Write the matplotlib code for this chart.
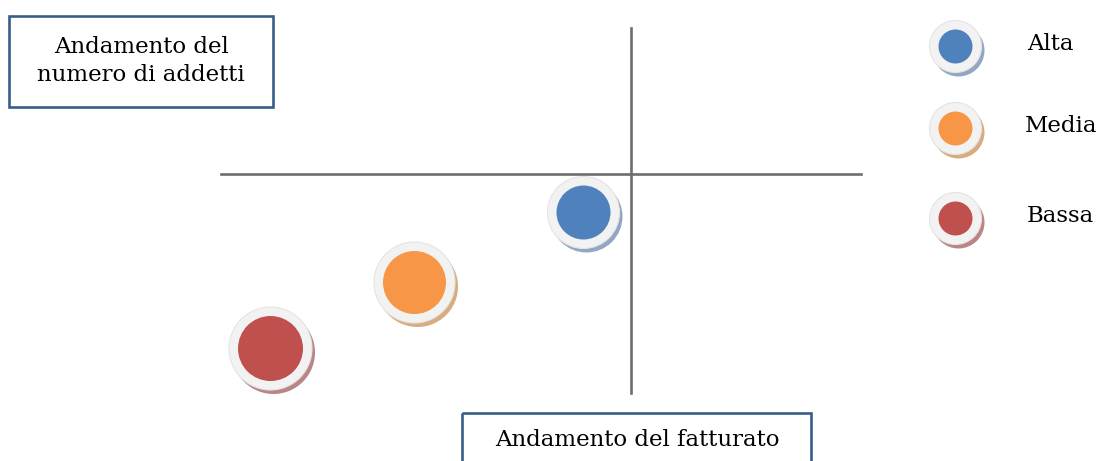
import numpy as np
import matplotlib.pyplot as plt
from matplotlib.patches import Rectangle
from matplotlib.transforms import Affine2D, offset_copy

# classi di crescita: posizione rispetto all'incrocio degli assi
classi = ['Alta', 'Media', 'Bassa']
fatturato = [-48, -217, -361]
addetti = [-38, -108, -174]
dimensione = [54, 63, 65]          # diametro bolla
colori = ['#4f81bd', '#f79646', '#c0504d']
ombre = ['#93a6c2', '#d9ab80', '#bb8585']

W, H = 1101, 461
fig = plt.figure(figsize=(W / 100, H / 100), dpi=100)
ax = fig.add_axes([0, 0, 1, 1])
ax.set_xlim(-631, W - 631)
ax.set_ylim(174 - H, 174)
ax.axis('off')

# coordinate in pixel (origine in alto a sinistra) per gli elementi di layout
px = Affine2D().scale(1 / W, -1 / H).translate(0, 1) + fig.transFigure

font = dict(family='DejaVu Serif', fontsize=16.5, color='black')


def bolla(x, y, d, col, ombra, trans):
    s_in = (d * 0.72) ** 2
    s_out = ((d + 18) * 0.72) ** 2
    sh = offset_copy(trans, fig=fig, x=3, y=-4, units='dots')
    ax.scatter(x, y, s=s_out, color=ombra, transform=sh, zorder=3, linewidths=0)
    ax.scatter(x, y, s=s_out, color='#f2f2f2', edgecolors='#e4e4e4', linewidths=0.8,
               transform=trans, zorder=4)
    ax.scatter(x, y, s=s_in, color=col, transform=trans, zorder=5, linewidths=0)


# assi del quadrante
ax.plot([-410, 230], [0, 0], color='#6e6e6e', linewidth=1.9, zorder=1)
ax.plot([0, 0], [-219, 146], color='#6e6e6e', linewidth=1.9, zorder=1)

for i in range(len(classi)):
    bolla(fatturato[i], addetti[i], dimensione[i], colori[i], ombre[i], ax.transData)

# legenda
leg_y = [46, 128, 218]
leg_txt_x = [1050, 1061, 1060]
for i in range(len(classi)):
    bolla(955, leg_y[i], 34, colori[i], ombre[i], px)
    ax.text(leg_txt_x[i], leg_y[i] - 2, classi[i], transform=px, ha='center', va='center', **font)

# riquadri dei titoli
ax.add_patch(Rectangle((9, 16), 264, 91, transform=px, fill=False, edgecolor='#385d8a',
                       linewidth=1.9, clip_on=False))
ax.text(141, 61, 'Andamento del\nnumero di addetti', transform=px, ha='center', va='center',
        linespacing=1.3, **font)

ax.add_patch(Rectangle((462, 413), 349, 60, transform=px, fill=False, edgecolor='#385d8a',
                       linewidth=1.9, clip_on=False))
ax.text(637, 440, 'Andamento del fatturato', transform=px, ha='center', va='center', **font)

plt.savefig('out.png', dpi=100)
